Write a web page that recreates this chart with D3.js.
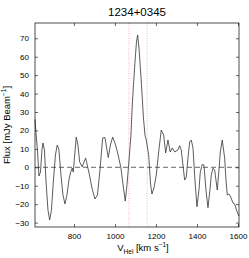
<!DOCTYPE html>
<html>
<head>
<meta charset="utf-8">
<script src="https://cdn.jsdelivr.net/npm/d3@7"></script>
<style>
  body { margin: 0; background: #fff; }
  svg text { font-family: "Liberation Sans", Arial, sans-serif; fill: #000; }
</style>
</head>
<body>
<div id="chart"></div>
<script>
// spectrum
const velocity = [610, 614.6, 621.9, 629.3, 636.6, 643.9, 648.8, 656.1, 663.4, 673.2,
  681.5, 690.2, 700, 709.8, 718.5, 726.8, 736.6, 746.3, 756.1, 765.9,
  775.6, 783.9, 791.7, 796.6, 802.4, 811.2, 819.5, 827.8, 840.5, 848.8,
  857.1, 865.9, 875.6, 887.8, 902.4, 914.6, 926.8, 940, 951.2, 959.5,
  967.3, 978, 988.8, 1000, 1013.2, 1029.3, 1041.5, 1050.2, 1058.5, 1066.8,
  1078, 1084.4, 1091.2, 1097.6, 1104.9, 1110.7, 1117.1, 1122, 1127.8, 1133.2,
  1139, 1146.3, 1152.7, 1164.4, 1174.1, 1180.5, 1190.2, 1201.5, 1213.2, 1225.8,
  1237.5, 1247.3, 1258.5, 1269.7, 1279.5, 1291.2, 1307.3, 1315.6, 1323.4, 1331.7,
  1340, 1347.8, 1356.1, 1364.4, 1372.2, 1380.5, 1390.2, 1400, 1409.8, 1416.1,
  1425.9, 1434.1, 1443.9, 1453.7, 1463.4, 1469.8, 1478, 1486.3, 1499, 1507.3,
  1513.7, 1523.4, 1535.1, 1541.5, 1547.8, 1556.1, 1564.4, 1575.6, 1583.9, 1592.7,
  1600, 1604.9];
const flux = [26, 19, 9.4, -4.7, -2.6, 9.4, 13.2, 9.4, -6.9, -23.2,
  -28.6, -23.2, -6.9, 6.7, 12.1, 9.4, -4.2, -15.0, -19.9, -15.0,
  -6.9, -2.6, -0.4, -2.6, 5.0, 16.4, 12.1, 2.9, 0.2, 2.9,
  5.0, 0.7, -4.2, -11.2, -17.2, -15.0, -1.5, 15.9, 16.2, 10.5,
  5.3, 12.1, 16.4, 13.2, 7.8, -0.4, -11.2, -18.3, -9.7, 1.2,
  17.5, 33.8, 46.3, 57.1, 68.0, 71.8, 64.7, 57.1, 47.4, 37.6,
  26.7, 17.5, 14.8, 6.7, -9.6, -14.5, -11.2, -4.2, 8.3, 20.2,
  17.5, 7.8, 14.8, 8.3, 10.5, 8.3, 9.4, 11.7, 9.4, 1.2,
  -6.9, -5.3, 5.0, 13.7, 14.8, 10.5, -6.9, -21.4, -12.3, -2.6,
  1.6, 1.2, -12.3, -21.9, -12.3, -4.2, -0.5, -1.5, -12.3, -1.5,
  8.3, 14.8, 5.0, -6.9, -15.0, -14.5, -16.1, -19.4, -19.9, -23.2,
  -25.3, -26.4];
const lineWindow = [1068, 1157];
const xTicks = [800, 1000, 1200, 1400, 1600];
const yTicks = [-30, -20, -10, 0, 10, 20, 30, 40, 50, 60, 70];
const title = '1234+0345';

const margin = { top: 23, right: 10, bottom: 31, left: 35 },
  width = 249 - margin.left - margin.right,
  height = 258 - margin.top - margin.bottom;

const x = d3.scaleLinear().domain([610, 1605]).range([0, width]);
const y = d3.scaleLinear().domain([-32.4, 78.3]).range([height, 0]);

const svg = d3.select('#chart')
  .append('svg')
  .attr('width', 249)
  .attr('height', 258)
  .append('g')
  .attr('transform', `translate(${margin.left},${margin.top})`);

const fmt = (d) => String(d).replace('-', '\u2212');

// axes, ticks inside like matlab
const styleAxis = (g) => {
  g.select('.domain').remove();
  g.selectAll('.tick line').attr('stroke', '#000').attr('stroke-width', 0.6);
  g.selectAll('.tick text').style('font-size', '8px');
};

svg.append('g')
  .attr('transform', `translate(0,${height})`)
  .call(d3.axisBottom(x).tickValues(xTicks).tickSizeInner(-3).tickPadding(6).tickFormat(fmt))
  .call(styleAxis);
svg.append('g')
  .call(d3.axisTop(x).tickValues(xTicks).tickSizeInner(-3).tickFormat(''))
  .call(styleAxis);
svg.append('g')
  .call(d3.axisLeft(y).tickValues(yTicks).tickSizeInner(-3).tickPadding(6).tickFormat(fmt))
  .call(styleAxis);
svg.append('g')
  .attr('transform', `translate(${width},0)`)
  .call(d3.axisRight(y).tickValues(yTicks).tickSizeInner(-3).tickFormat(''))
  .call(styleAxis);

// zero line
svg.append('line')
  .attr('x1', 0).attr('x2', width)
  .attr('y1', y(0)).attr('y2', y(0))
  .attr('stroke', '#222')
  .attr('stroke-width', 0.7)
  .attr('stroke-dasharray', '5,3');

// velocity window
svg.selectAll('.window')
  .data(lineWindow)
  .enter().append('line')
  .attr('class', 'window')
  .attr('x1', (d) => x(d)).attr('x2', (d) => x(d))
  .attr('y1', 0).attr('y2', height)
  .attr('stroke', '#f4a6a6')
  .attr('stroke-width', 0.8)
  .attr('stroke-dasharray', '1,1.5');

const valueline = d3.line()
  .x((d, i) => x(velocity[i]))
  .y((d) => y(d));

svg.append('path')
  .datum(flux)
  .attr('fill', 'none')
  .attr('stroke', '#333')
  .attr('stroke-width', 0.8)
  .attr('d', valueline);

svg.append('rect')
  .attr('width', width).attr('height', height)
  .attr('fill', 'none')
  .attr('stroke', '#000')
  .attr('stroke-width', 0.7);

svg.append('text')
  .attr('x', width / 2).attr('y', -7)
  .attr('text-anchor', 'middle')
  .style('font-size', '11.5px')
  .text(title);

const xl = svg.append('text')
  .attr('x', width / 2 + 6).attr('y', height + 24)
  .attr('text-anchor', 'middle')
  .style('font-size', '9.5px');
xl.append('tspan').text('V');
xl.append('tspan').attr('dy', 3).style('font-size', '6.5px').text('Hel');
xl.append('tspan').attr('dy', -3).text(' [km s');
xl.append('tspan').attr('dy', -4).style('font-size', '6.5px').text('\u22121');
xl.append('tspan').attr('dy', 4).text(']');

const yl = svg.append('text')
  .attr('transform', `translate(${-margin.left + 10},${height / 2}) rotate(-90)`)
  .attr('text-anchor', 'middle')
  .style('font-size', '9.5px');
yl.append('tspan').text('Flux [mJy Beam');
yl.append('tspan').attr('dy', -4).style('font-size', '6.5px').text('\u22121');
yl.append('tspan').attr('dy', 4).text(']');
</script>
</body>
</html>
